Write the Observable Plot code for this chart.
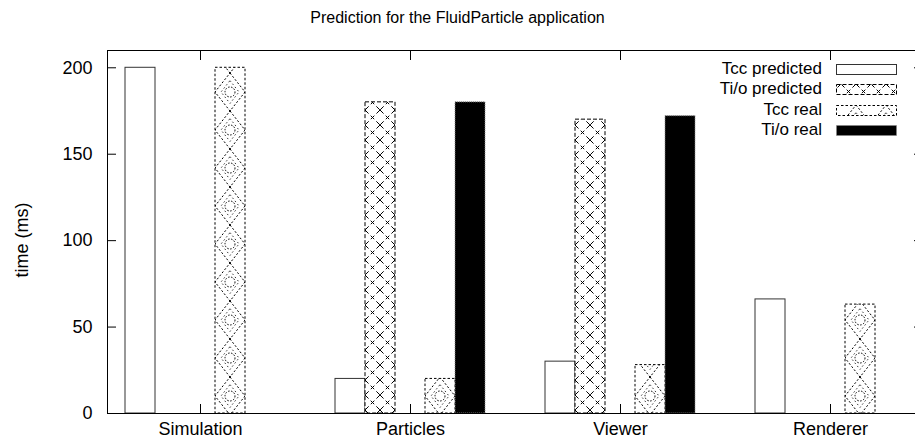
<!DOCTYPE html>
<html><head><meta charset="utf-8">
<script src="https://cdn.jsdelivr.net/npm/d3@7"></script>
<script src="https://cdn.jsdelivr.net/npm/@observablehq/plot@0.6"></script>
<style>
body{margin:0;background:#fff;font-family:"Liberation Sans",Arial,Helvetica,sans-serif;color:#000;}
#wrap{position:relative;width:915px;height:447px;overflow:hidden;}
#title{height:35px;line-height:35px;text-align:center;font-size:16px;}
#ylabel{position:absolute;left:-28px;top:230px;width:100px;height:20px;line-height:20px;text-align:center;font-size:18px;transform:rotate(-90deg);transform-origin:50% 50%;white-space:nowrap;}
.lrow{position:absolute;left:560px;width:262px;height:20px;line-height:20px;text-align:right;font-size:17px;white-space:nowrap;}
.lsw{position:absolute;left:836px;width:62px;height:11px;}
</style></head><body>
<div id="wrap"><div id="title">Prediction for the FluidParticle application</div><div id="chart"></div><div id="ylabel">time (ms)</div></div>
<script>
const categories = ["Simulation", "Particles", "Viewer", "Renderer"];
const seriesNames = ["Tcc predicted", "Ti/o predicted", "Tcc real", "Ti/o real"];
const tccPredicted = [200, 20, 30, 66];
const tioPredicted = [0, 180, 170, 0];
const tccReal = [200, 20, 28, 63];
const tioReal = [0, 180, 172, 0];
const yTicks = [0, 50, 100, 150, 200];

const seriesValues = [tccPredicted, tioPredicted, tccReal, tioReal];
const seriesSlots = [0, 1, 3, 4]; // slot 2 of each cluster stays empty
const slotsPerCluster = 5;
const gapSlots = 2;

const xDomain = [];
categories.forEach((c, i) => {
  for (let s = 0; s < slotsPerCluster; s++) xDomain.push(`${c}|${s}`);
  if (i < categories.length - 1) for (let g = 0; g < gapSlots; g++) xDomain.push(`${c}|gap${g}`);
});
const rows = [];
seriesNames.forEach((name, si) => categories.forEach((c, ci) =>
  rows.push({series: name, category: c, key: `${c}|${seriesSlots[si]}`, value: seriesValues[si][ci]})));
const centerKeys = categories.map(c => `${c}|2`);

const styles = {
  "Tcc predicted": {fill: "white", stroke: "#333"},
  "Ti/o predicted": {fill: "url(#pat-cross)", stroke: "#000", strokeDasharray: "4,2"},
  "Tcc real": {fill: "url(#pat-diamond)", stroke: "#000", strokeDasharray: "2.5,2"},
  "Ti/o real": {fill: "#000", stroke: "#888", strokeDasharray: "1,1"}
};

const plot = Plot.plot({
  width: 915, height: 412,
  marginLeft: 107, marginRight: -7, marginTop: 15, marginBottom: 34,
  style: {fontFamily: '"Liberation Sans", Arial, sans-serif', fontSize: "18px", color: "#000", background: "white", overflow: "visible"},
  x: {domain: xDomain, paddingInner: 0, paddingOuter: 0.5},
  y: {domain: [0, 210]},
  marks: [
    ...seriesNames.map(name => Plot.barY(rows.filter(d => d.series === name),
      {x: "key", y: "value", strokeWidth: 1, ...styles[name]})),
    Plot.frame({stroke: "#000"}),
    Plot.axisX({ticks: centerKeys, anchor: "bottom", tickSize: -9, tickPadding: 18,
      tickFormat: d => d.split("|")[0], label: null}),
    Plot.axisX({ticks: centerKeys, anchor: "top", tickSize: -9, tickFormat: () => "", label: null}),
    Plot.axisY({ticks: yTicks, anchor: "left", tickSize: -9, tickPadding: 24, label: null}),
    Plot.axisY({ticks: yTicks, anchor: "right", tickSize: -9, tickFormat: () => "", label: null})
  ]
});
document.getElementById("chart").appendChild(plot);

// patterns
const xs = plot.scale("x");
const step = xs.bandwidth;
const x0 = xs.apply(xDomain[0]);
const svg = d3.select(plot);
const defs = svg.insert("defs", ":first-child");
const cw = step / 2;
const cross = defs.append("pattern").attr("id", "pat-cross").attr("patternUnits", "userSpaceOnUse")
  .attr("x", x0).attr("y", 0).attr("width", cw).attr("height", cw);
cross.append("rect").attr("width", cw).attr("height", cw).attr("fill", "white");
cross.append("path").attr("d", `M0,0L${cw},${cw}M${cw},0L0,${cw}`)
  .attr("stroke", "#000").attr("stroke-width", 1).attr("stroke-dasharray", "5,3").attr("fill", "none");
const dh = 38;
const dia = defs.append("pattern").attr("id", "pat-diamond").attr("patternUnits", "userSpaceOnUse")
  .attr("x", x0).attr("y", 0).attr("width", step).attr("height", dh);
dia.append("rect").attr("width", step).attr("height", dh).attr("fill", "white");
dia.append("path").attr("d", `M${step/2},0L${step},${dh/2}L${step/2},${dh}L0,${dh/2}Z`)
  .attr("stroke", "#000").attr("stroke-width", 1).attr("stroke-dasharray", "2,2").attr("fill", "none");
dia.append("path").attr("d", `M${step/2},${dh*0.2}L${step*0.8},${dh/2}L${step/2},${dh*0.8}L${step*0.2},${dh/2}Z`)
  .attr("stroke", "#000").attr("stroke-width", 0.8).attr("stroke-dasharray", "1.5,2.5").attr("fill", "none");
dia.append("circle").attr("cx", step/2).attr("cy", dh/2).attr("r", 5)
  .attr("stroke", "#000").attr("stroke-width", 1).attr("stroke-dasharray", "1.5,1.5").attr("fill", "none");
dia.append("circle").attr("cx", step/2).attr("cy", 0).attr("r", 1).attr("fill", "#000");
dia.append("circle").attr("cx", step/2).attr("cy", dh).attr("r", 1).attr("fill", "#000");

// legend
const wrap = document.getElementById("wrap");
seriesNames.forEach((name, i) => {
  const cy = 69 + i * 20.3;
  const t = document.createElement("div");
  t.className = "lrow"; t.style.top = (cy - 10) + "px"; t.textContent = name;
  wrap.appendChild(t);
  const s = d3.create("svg").attr("class", "lsw").attr("width", 62).attr("height", 11)
    .style("top", (cy - 5) + "px");
  const st = styles[name];
  s.append("rect").attr("x", 0.5).attr("y", 0.5).attr("width", 60).attr("height", 10)
    .attr("fill", st.fill).attr("stroke", st.stroke).attr("stroke-dasharray", st.strokeDasharray || null);
  wrap.appendChild(s.node());
});
</script>
</body></html>
